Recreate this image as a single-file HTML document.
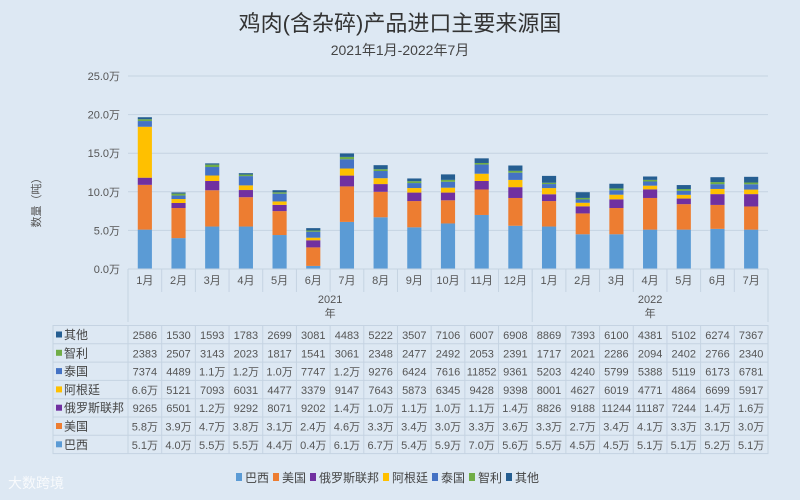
<!DOCTYPE html>
<html><head><meta charset="utf-8"><style>
body{margin:0;background:#dde8f3;}
svg{display:block;font-family:"Liberation Sans","Noto Sans CJK SC",sans-serif;}
</style></head><body>
<svg id="chart" width="800" height="500" viewBox="0 0 800 500">
<rect width="800" height="500" fill="#dde8f3"/>
<text x="400" y="31" text-anchor="middle" font-size="22" fill="#333">鸡肉(含杂碎)产品进口主要来源国</text>
<text x="400" y="55" text-anchor="middle" font-size="14" fill="#444">2021年1月-2022年7月</text>
<text transform="translate(40,200) rotate(-90)" text-anchor="middle" font-size="11" fill="#555">数量（吨）</text>
<g id="grid"></g><g id="bars"></g><g id="axis"></g><g id="table"></g><g id="legend"></g>
<text x="8" y="488" font-size="14" fill="#fff" opacity="0.8">大数跨境</text>
</svg>
<script>
const months = ["1月","2月","3月","4月","5月","6月","7月","8月","9月","10月","11月","12月","1月","2月","3月","4月","5月","6月","7月"];
const years = ["2021","2022"];
const yearCounts = [12,7];
const seriesNames = ["巴西","美国","俄罗斯联邦","阿根廷","泰国","智利","其他"];
const brazil = ["5.1万","4.0万","5.5万","5.5万","4.4万","0.4万","6.1万","6.7万","5.4万","5.9万","7.0万","5.6万","5.5万","4.5万","4.5万","5.1万","5.1万","5.2万","5.1万"];
const usa = ["5.8万","3.9万","4.7万","3.8万","3.1万","2.4万","4.6万","3.3万","3.4万","3.0万","3.3万","3.6万","3.3万","2.7万","3.4万","4.1万","3.3万","3.1万","3.0万"];
const russia = ["9265","6501","1.2万","9292","8071","9202","1.4万","1.0万","1.1万","1.0万","1.1万","1.4万","8826","9188","11244","11187","7244","1.4万","1.6万"];
const argentina = ["6.6万","5121","7093","6031","4477","3379","9147","7643","5873","6345","9428","9398","8001","4627","6019","4771","4864","6699","5917"];
const thailand = ["7374","4489","1.1万","1.2万","1.0万","7747","1.2万","9276","6424","7616","11852","9361","5203","4240","5799","5388","5119","6173","6781"];
const chile = ["2383","2507","3143","2023","1817","1541","3061","2348","2477","2492","2053","2391","1717","2021","2286","2094","2402","2766","2340"];
const other = ["2586","1530","1593","1783","2699","3081","4483","5222","3507","7106","6007","6908","8869","7393","6100","4381","5102","6274","7367"];
const yTicks = ["0.0万","5.0万","10.0万","15.0万","20.0万","25.0万"];
const colors = ["#5b9bd5","#ed7d31","#7030a0","#ffc000","#4472c4","#70ad47","#255e91"];
const series = [brazil,usa,russia,argentina,thailand,chile,other];

const NS="http://www.w3.org/2000/svg";
function mk(tag,attrs,parent,text){const e=document.createElementNS(NS,tag);for(const k in attrs)e.setAttribute(k,attrs[k]);if(text!==undefined)e.textContent=text;parent.appendChild(e);return e;}
function parseVal(s){return s.indexOf("万")>=0?parseFloat(s)*10000:parseFloat(s);}
const X0=128,X1=768,Y0=269,Y1=76,YMAX=250000;
const colW=(X1-X0)/months.length;
function xPos(i){return X0+i*colW;}
function yPos(v){return Y0-(v/YMAX)*(Y0-Y1);}

const grid=document.getElementById("grid");
yTicks.forEach((t,i)=>{
  const v=parseVal(t);const y=yPos(v);
  const l=mk("line",{x1:X0,x2:X1,y1:y,y2:y,stroke:"#c5d3e2","stroke-width":1},grid);
  
  
  const tx=mk("text",{x:X0-8,y:y+4,"text-anchor":"end","font-size":11,fill:"#555"},grid,t);
  
  
});

const bars=document.getElementById("bars");
months.forEach((m,i)=>{
  let acc=0;
  series.forEach((s,k)=>{
    const v=parseVal(s[i]);
    const yTop=yPos(acc+v),yBot=yPos(acc);
    const r=mk("rect",{x:xPos(i)+colW*0.29,y:yTop,width:colW*0.42,height:Math.max(0,yBot-yTop),fill:colors[k]},bars);
    
    
    acc+=v;
  });
});

const ax=document.getElementById("axis");
mk("line",{x1:X0,x2:X1,y1:Y0,y2:Y0,stroke:"#c5d3e2"},ax);
months.forEach((m,i)=>{
  const t=mk("text",{x:xPos(i)+colW/2,y:Y0+15,"text-anchor":"middle","font-size":11,fill:"#555"},ax,m);
  
  
  mk("line",{x1:xPos(i),x2:xPos(i),y1:Y0,y2:Y0+23,stroke:"#c5d3e2"},ax);
});
let start=0;
years.forEach((yr,j)=>{
  const a=xPos(start),b=xPos(start+yearCounts[j]);
  mk("line",{x1:a,x2:a,y1:Y0,y2:322,stroke:"#c5d3e2"},ax);
  const t=mk("text",{x:(a+b)/2,y:303,"text-anchor":"middle","font-size":11,fill:"#555"},ax,yr);
  
  
  mk("text",{x:(a+b)/2,y:317,"text-anchor":"middle","font-size":11,fill:"#555"},ax,"年");
  start+=yearCounts[j];
});
mk("line",{x1:X1,x2:X1,y1:Y0,y2:322,stroke:"#c5d3e2"},ax);

const tb=document.getElementById("table");
const rowH=18.3,T0=325.5;
const order=[6,5,4,3,2,1,0];
const labelNames=["巴西","美国","俄罗斯联邦","阿根廷","泰国","智利","其他"];
mk("rect",{x:53,y:T0,width:X1-53,height:rowH*7,fill:"none",stroke:"#c5d3e2"},tb);
order.forEach((k,r)=>{
  const y=T0+r*rowH;
  mk("line",{x1:53,x2:X1,y1:y,y2:y,stroke:"#c5d3e2"},tb);
  const sw=mk("rect",{x:56,y:y+6,width:6,height:6,fill:colors[k]},tb);
  
  
  const lb=mk("text",{x:64,y:y+13.5,"font-size":12,fill:"#444"},tb,labelNames[k]);
  
  
  series[k].forEach((v,i)=>{
    const t=mk("text",{x:xPos(i)+colW/2,y:y+13.5,"text-anchor":"middle","font-size":11,fill:"#555"},tb,v);
    
    
  });
});
months.forEach((m,i)=>{mk("line",{x1:xPos(i),x2:xPos(i),y1:T0,y2:T0+rowH*7,stroke:"#c5d3e2"},tb);});

const lg=document.getElementById("legend");
let lx=236;
labelNames.forEach((n,k)=>{
  const g=mk("g",{},lg);
  
  
  mk("rect",{x:lx,y:473,width:6,height:8,fill:colors[k]},g);
  mk("text",{x:lx+9,y:482,"font-size":12,fill:"#444"},g,n);
  lx+=9+n.length*12+4;
});
</script>
</body></html>
